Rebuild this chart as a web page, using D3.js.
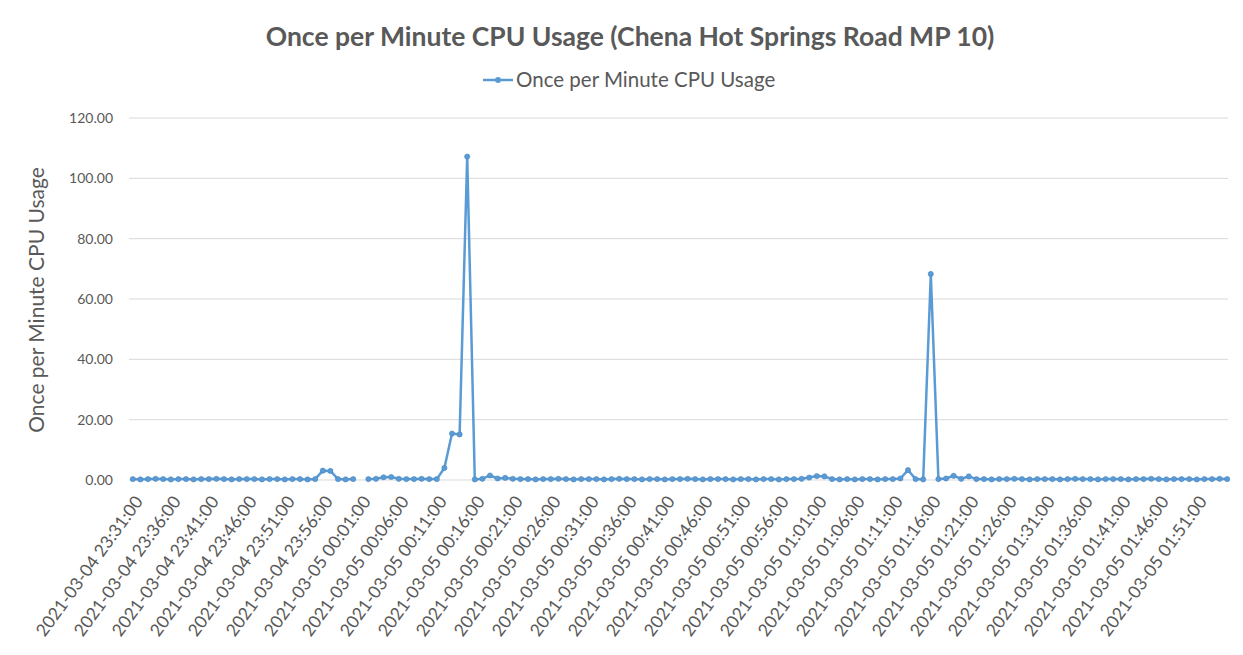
<html>
<head>
<meta charset="utf-8">
<title>Once per Minute CPU Usage</title>
<style>
  body { margin: 0; background: #fff; }
  text { font-family: Lato, "Open Sans", sans-serif; fill: #595959; }
</style>
<script src="https://d3js.org/d3.v7.min.js"></script>
</head>
<body>
<svg width="1243" height="655"></svg>
<script>
// minutes from 2021-03-04 23:31 to 2021-03-05 01:55
var startTime = new Date(2021, 2, 4, 23, 31, 0);
var fmt = d3.timeFormat("%Y-%m-%d %H:%M:%S");
var categories = d3.range(145).map(i => fmt(new Date(+startTime + i * 60000)));

// CPU usage per minute (null = no reading)
var cpuUsage = [
  0.3, 0.2, 0.3, 0.4, 0.3, 0.2, 0.3, 0.3, 0.2, 0.3,
  0.3, 0.4, 0.3, 0.2, 0.3, 0.3, 0.3, 0.2, 0.3, 0.3,
  0.2, 0.3, 0.3, 0.2, 0.3, 3.1, 3.0, 0.3, 0.2, 0.3,
  null, 0.3, 0.4, 0.9, 1.0, 0.4, 0.3, 0.3, 0.4, 0.3,
  0.3, 4.0, 15.4, 15.1, 107.2, 0.2, 0.4, 1.5, 0.5, 0.7,
  0.4, 0.3, 0.3, 0.2, 0.3, 0.3, 0.4, 0.3, 0.2, 0.3,
  0.3, 0.3, 0.2, 0.3, 0.4, 0.3, 0.3, 0.2, 0.3, 0.3,
  0.2, 0.3, 0.3, 0.4, 0.3, 0.2, 0.3, 0.3, 0.3, 0.2,
  0.3, 0.3, 0.2, 0.3, 0.3, 0.2, 0.3, 0.3, 0.4, 0.8,
  1.3, 1.2, 0.3, 0.2, 0.3, 0.2, 0.3, 0.3, 0.2, 0.3,
  0.3, 0.5, 3.3, 0.3, 0.2, 68.3, 0.3, 0.5, 1.4, 0.4,
  1.2, 0.3, 0.3, 0.2, 0.3, 0.3, 0.4, 0.3, 0.2, 0.3,
  0.3, 0.3, 0.2, 0.3, 0.4, 0.3, 0.3, 0.2, 0.3, 0.3,
  0.3, 0.2, 0.3, 0.3, 0.4, 0.3, 0.2, 0.3, 0.3, 0.3,
  0.2, 0.3, 0.3, 0.4, 0.3
];
var yTicks = [0, 20, 40, 60, 80, 100, 120];
var chartTitle = "Once per Minute CPU Usage (Chena Hot Springs Road MP 10)";
var seriesName = "Once per Minute CPU Usage";

var svg = d3.select("svg"),
    plot = {left: 129, right: 1231, top: 118, bottom: 480},
    blue = "#5b9bd5";

var xScale = d3.scalePoint()
    .domain(categories)
    .range([plot.left, plot.right])
    .padding(0.5);
var yScale = d3.scaleLinear()
    .domain([0, 120])
    .range([plot.bottom, plot.top]);

var data = categories.map((c, i) => ({cat: c, value: cpuUsage[i]}));

// gridlines
svg.append("g").selectAll("line")
  .data(yTicks)
  .enter().append("line")
    .attr("x1", plot.left)
    .attr("x2", plot.right - 3)
    .attr("y1", d => yScale(d))
    .attr("y2", d => yScale(d))
    .attr("stroke", "#d9d9d9")
    .attr("stroke-width", 1);

// y axis labels
svg.append("g").selectAll("text")
  .data(yTicks)
  .enter().append("text")
    .attr("x", 113)
    .attr("y", d => yScale(d))
    .attr("dy", "0.35em")
    .attr("text-anchor", "end")
    .style("font-size", "14px")
    .text(d => d.toFixed(2));

// x axis labels, every 5th minute
svg.append("g").selectAll("text")
  .data(categories.filter((c, i) => i % 5 == 0))
  .enter().append("text")
    .attr("transform", d => `translate(${xScale(d) + 6},${plot.bottom + 18}) rotate(-54)`)
    .attr("dy", "0.35em")
    .attr("text-anchor", "end")
    .style("font-size", "17.5px")
    .text(d => d);

// line
var line = d3.line()
    .defined(d => d.value != null)
    .x(d => xScale(d.cat))
    .y(d => yScale(d.value));

svg.append("path")
  .datum(data)
  .attr("d", line)
  .attr("fill", "none")
  .attr("stroke", blue)
  .attr("stroke-width", 2.5)
  .attr("stroke-linejoin", "round");

svg.append("g").selectAll("circle")
  .data(data.filter(d => d.value != null))
  .enter().append("circle")
    .attr("cx", d => xScale(d.cat))
    .attr("cy", d => yScale(d.value))
    .attr("r", 2.6)
    .attr("fill", blue)
    .attr("stroke", "#4a86c0")
    .attr("stroke-width", 0.6);

// title
svg.append("text")
  .attr("x", 630)
  .attr("y", 37)
  .attr("dy", "0.35em")
  .attr("text-anchor", "middle")
  .style("font-size", "26.5px")
  .style("font-weight", "bold")
  .text(chartTitle);

// legend
var legend = svg.append("g").attr("transform", "translate(483,80)");
legend.append("line")
  .attr("x1", 0).attr("x2", 30)
  .attr("stroke", blue)
  .attr("stroke-width", 2.5);
legend.append("circle")
  .attr("cx", 15).attr("r", 3)
  .attr("fill", blue);
legend.append("text")
  .attr("x", 33)
  .attr("dy", "0.35em")
  .style("font-size", "20.5px")
  .text(seriesName);

// y axis title
svg.append("text")
  .attr("transform", "translate(37,300) rotate(-90)")
  .attr("dy", "0.35em")
  .attr("text-anchor", "middle")
  .style("font-size", "21px")
  .text(seriesName);
</script>
</body>
</html>
